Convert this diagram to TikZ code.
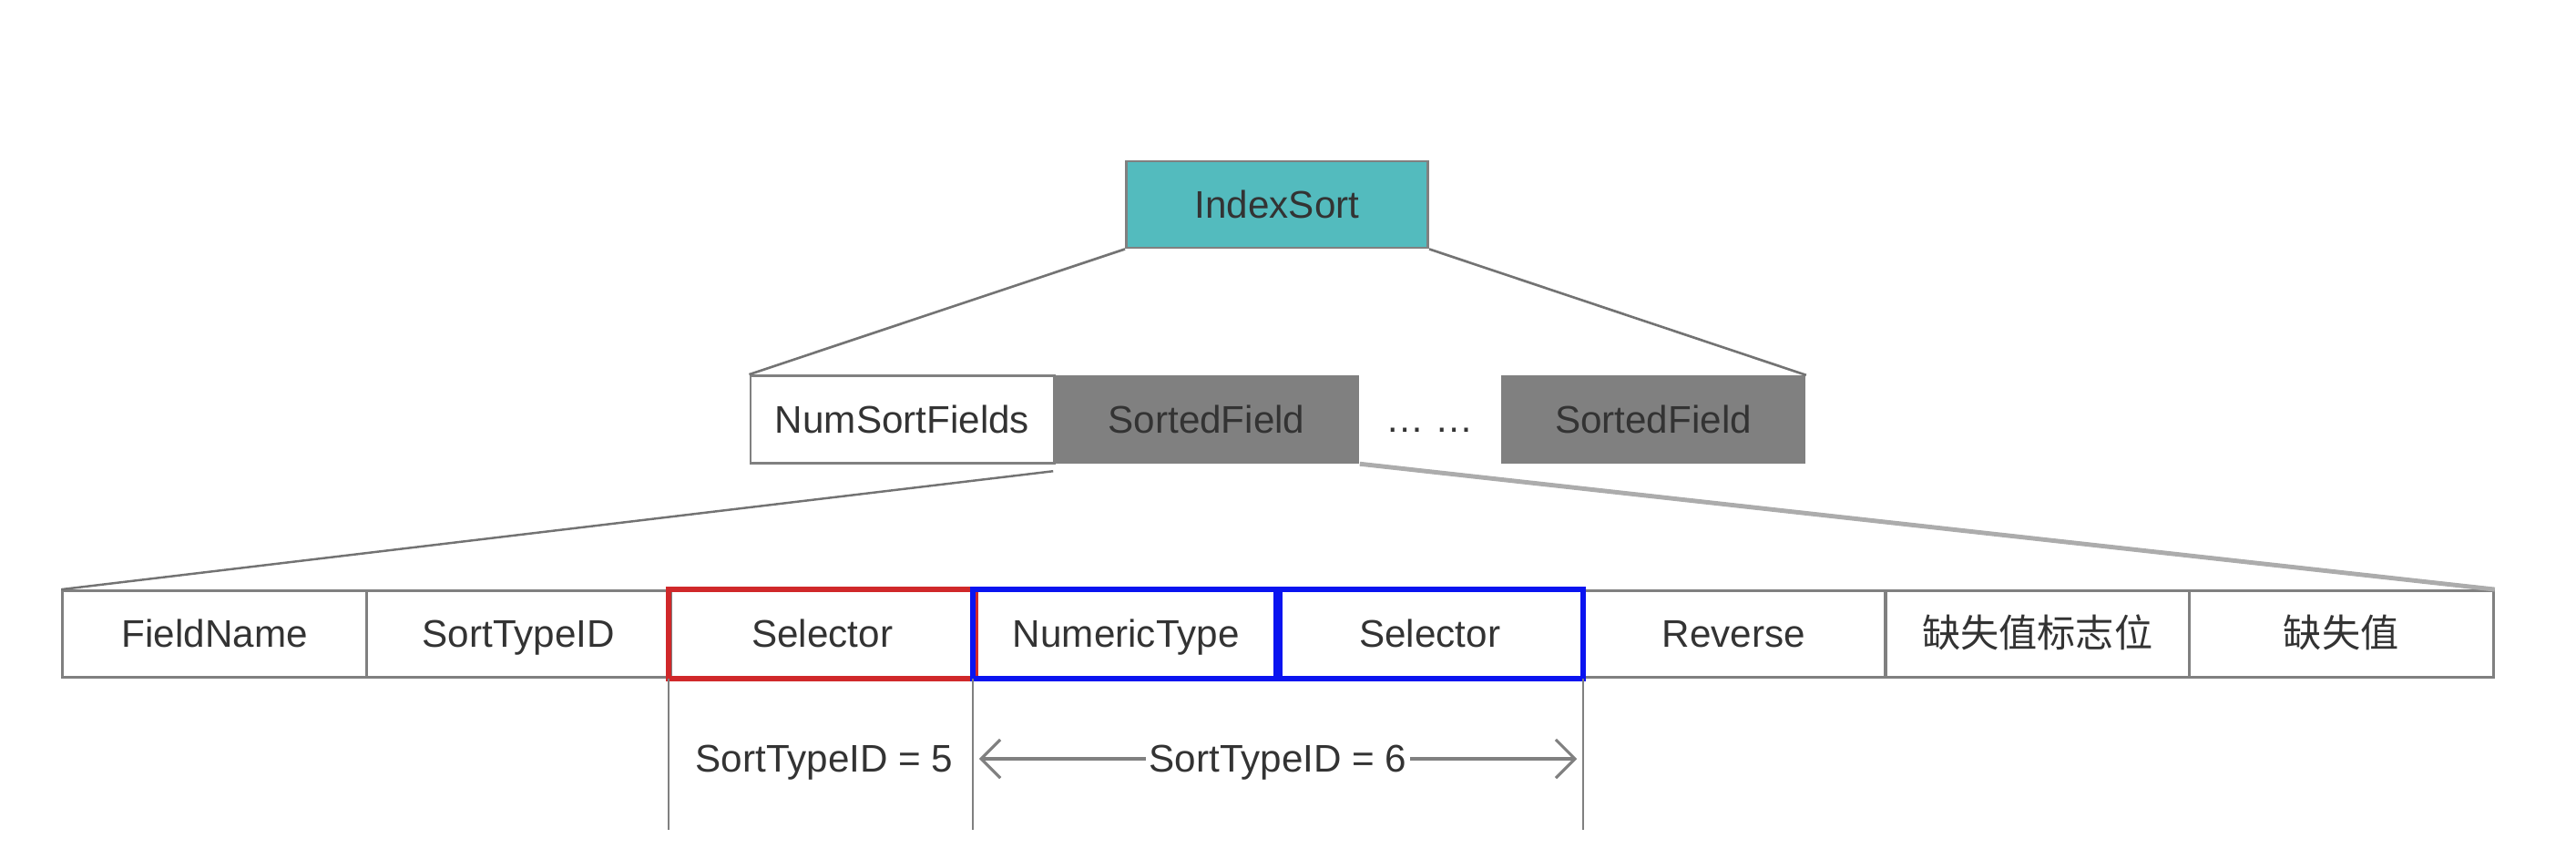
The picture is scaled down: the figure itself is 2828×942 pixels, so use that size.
\documentclass[tikz,border=0pt]{standalone}
\usepackage{fontspec}
\setmainfont{Liberation Sans}
\newfontfamily\cjk{Noto Sans CJK SC}
\usetikzlibrary{arrows.meta}
\definecolor{idxteal}{HTML}{53BBBE}
\definecolor{boxgray}{HTML}{808080}
\definecolor{txtgray}{HTML}{333333}
\definecolor{selred}{HTML}{D0282A}
\definecolor{selblue}{HTML}{0A14F0}

\begin{document}
\begin{tikzpicture}[x=0.01cm, y=-0.01cm,
    every node/.style={text=txtgray, font=\fontsize{12}{14}\selectfont, inner sep=0pt,
        text height=10.8pt, text depth=2.4pt},
    field/.style={draw=boxgray, line width=0.8pt, minimum width=3.34cm, minimum height=0.95cm},
    sorted/.style={fill=boxgray, minimum width=3.34cm, minimum height=0.96cm},
    link/.style={draw=boxgray!90!black, line width=0.75pt}]
    \useasboundingbox (0, 0) rectangle (2828, 942);
    % top
    \node[field, fill=idxteal, minimum width=3.31cm] (idx) at (1402, 224.5) {IndexSort};
    % middle row
    \node[field, minimum width=3.33cm, minimum height=0.96cm] (nsf) at (990.5, 460.5) {NumSortFields};
    \node[sorted, minimum width=3.35cm] (sf1) at (1324.5, 460.5) {SortedField};
    \node (dots) at (1570, 460) {\ldots{} \ldots};
    \node[sorted] (sf2) at (1815, 460.5) {SortedField};
    \draw[link] (idx.south west) -- (nsf.north west);
    \draw[link] (idx.south east) -- (sf2.north east);
    % bottom row
    \foreach \name/\txt [count=\i] in {c1/FieldName, c2/SortTypeID, c3/Selector,
        c4/NumericType, c5/Selector, c6/Reverse, c7/{\cjk 缺失值标志位}, c8/{\cjk 缺失值}}
        \node[field] (\name) at ({69 + 333.5*(\i - 0.5)}, 696) {\txt};
    \draw[selred, line width=1.7pt] (c3.north west) rectangle (c3.south east);
    \draw[selblue, line width=1.7pt] (c4.north west) rectangle (c4.south east);
    \draw[selblue, line width=1.7pt] (c5.north west) rectangle (c5.south east);
    \draw[link, line width=0.7pt] (sf1.south west) ++(0, 8) coordinate (l1) -- (c1.north west);
    \draw[draw=boxgray!65, line width=1.4pt] (sf1.south east) -- (c8.north east);
    % sort type ids
    \coordinate (v1) at (c3.south west |- 0, 911);
    \coordinate (v2) at (c4.south west |- 0, 911);
    \coordinate (v3) at (c5.south east |- 0, 911);
    \draw[boxgray, line width=0.6pt] (c3.south west) -- (v1);
    \draw[boxgray, line width=0.6pt] (c4.south west) -- (v2);
    \draw[boxgray, line width=0.6pt] (c5.south east) -- (v3);
    \node (id5) at (905, 833) {SortTypeID = 5};
    \coordinate (a1) at ([xshift=2] v2 |- 0, 833);
    \coordinate (a2) at ([xshift=-2] v3 |- 0, 833);
    \draw[boxgray, line width=0.9pt, {Straight Barb[length=6pt, width=12pt]}-{Straight Barb[length=6pt, width=12pt]}]
        (a1) -- (a2) node[midway, fill=white, inner xsep=1pt] (id6) {SortTypeID = 6};
\end{tikzpicture}
\end{document}
